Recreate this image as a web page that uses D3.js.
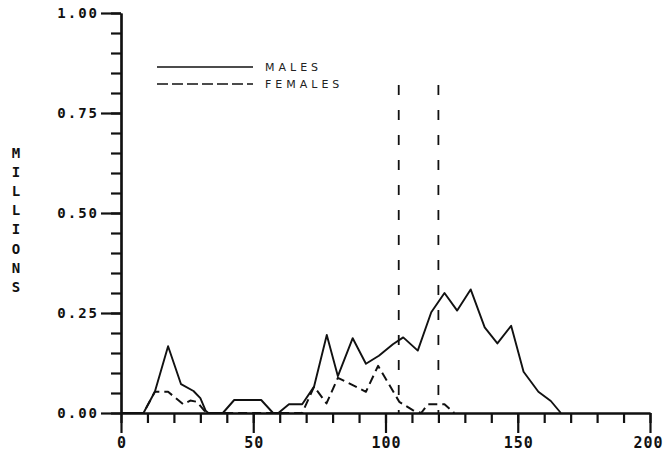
<!DOCTYPE html>
<html>
<head>
<meta charset="utf-8">
<script src="https://cdn.jsdelivr.net/npm/d3@7"></script>
<style>
  html, body { margin: 0; padding: 0; background: #fff; }
  svg { display: block; }
</style>
</head>
<body>
<svg id="chart" width="667" height="457"></svg>
<script>
// ---- data ----
const maleAge   = [0, 8.5, 12.8, 17.8, 22.7, 27.4, 30, 32, 33, 38.5, 42.8, 53, 57.5, 59.5, 63.5, 68.5, 73, 77.8, 82, 87.6, 92.6, 97.5, 102.8, 106.7, 112.2, 117.3, 122.3, 127.1, 132.2, 137.5, 142.3, 147.5, 152.2, 157.8, 162.5, 166.3];
const maleVal   = [0, 0, 0.053, 0.167, 0.072, 0.055, 0.037, 0.006, 0, 0, 0.0325, 0.0325, 0, 0, 0.022, 0.022, 0.066, 0.195, 0.092, 0.187, 0.123, 0.143, 0.172, 0.189, 0.156, 0.252, 0.300, 0.256, 0.309, 0.214, 0.174, 0.218, 0.103, 0.053, 0.030, 0];
const femaleAge = [0, 8.5, 12.8, 17.8, 23.5, 26.2, 28.7, 31.5, 33, 68.5, 73, 77.7, 82, 92.6, 97.2, 105.2, 110.3, 113.5, 116, 122.3, 126];
const femaleVal = [0, 0, 0.053, 0.053, 0.022, 0.031, 0.028, 0.006, 0, 0, 0.066, 0.024, 0.088, 0.053, 0.118, 0.028, 0.007, 0, 0.022, 0.022, 0];
const markerAges = [105, 120];
const markerTop = 0.82;
const yMajorTicks = [0, 0.25, 0.5, 0.75, 1.0];
const yMinorTicks = d3.range(0, 1.0001, 0.05);
const xMajorTicks = [0, 50, 100, 150, 200];
const xMinorTicks = d3.range(0, 201, 10);
const seriesNames = ["MALES", "FEMALES"];
const yTitle = "MILLIONS";

// ---- drawing ----
const svg = d3.select("#chart");
const ink = "#111";
const x = d3.scaleLinear().domain([0, 200]).range([121, 650]);
const y = d3.scaleLinear().domain([0, 1]).range([413, 13]);

const tickFont = "'DejaVu Sans Mono', 'Liberation Mono', monospace";

// y axis minor
svg.append("g").attr("transform", "translate(121,0)")
  .call(d3.axisLeft(y).tickValues(yMinorTicks).tickSize(10).tickSizeOuter(0).tickFormat(""))
  .call(g => g.selectAll("line,path").attr("stroke", ink).attr("stroke-width", 2.2));
// y axis major
svg.append("g").attr("transform", "translate(121,0)")
  .call(d3.axisLeft(y).tickValues(yMajorTicks).tickSize(20).tickSizeOuter(0).tickPadding(4).tickFormat(d3.format(".2f")))
  .call(g => g.selectAll("line,path").attr("stroke", ink).attr("stroke-width", 2.2))
  .call(g => g.selectAll("text").attr("fill", ink).attr("font-family", tickFont)
      .attr("font-weight", "bold").attr("font-size", 14).attr("letter-spacing", 2).attr("dx", 2));

// x axis minor
svg.append("g").attr("transform", "translate(0,413)")
  .call(d3.axisBottom(x).tickValues(xMinorTicks).tickSize(10).tickSizeOuter(0).tickFormat(""))
  .call(g => g.selectAll("line,path").attr("stroke", ink).attr("stroke-width", 2.2));
// x axis major
svg.append("g").attr("transform", "translate(0,413)")
  .call(d3.axisBottom(x).tickValues(xMajorTicks).tickSize(20).tickSizeOuter(0).tickPadding(4).tickFormat(d3.format("d")))
  .call(g => g.selectAll("line,path").attr("stroke", ink).attr("stroke-width", 2.2))
  .call(g => g.selectAll("text").attr("fill", ink).attr("font-family", tickFont)
      .attr("font-weight", "bold").attr("font-size", 15).attr("letter-spacing", 1).attr("dx", 0.5))
  .call(g => g.selectAll(".tick").filter(d => d === 200).select("text").attr("dx", -2));

// y title stacked letters
const t = svg.append("text").attr("fill", ink).attr("font-family", tickFont)
  .attr("font-weight", "bold").attr("font-size", 14).attr("text-anchor", "middle");
yTitle.split("").forEach((c, i) => {
  t.append("tspan").attr("x", 16).attr("y", 158 + i * 19.1).text(c);
});

// marker vertical dashed lines
svg.append("g").selectAll("line").data(markerAges).join("line")
  .attr("x1", d => x(d)).attr("x2", d => x(d))
  .attr("y1", y(markerTop)).attr("y2", y(0))
  .attr("stroke", ink).attr("stroke-width", 1.8).attr("stroke-dasharray", "10,15");

// series
const line = d3.line().x(d => x(d[0])).y(d => y(d[1]));
const males = maleAge.map((a, i) => [a, maleVal[i]]);
const females = femaleAge.map((a, i) => [a, femaleVal[i]]);
svg.append("path").datum(females).attr("d", line).attr("fill", "none")
  .attr("stroke", ink).attr("stroke-width", 2).attr("stroke-dasharray", "9,5")
  .attr("stroke-linejoin", "round");
svg.append("path").datum(males).attr("d", line).attr("fill", "none")
  .attr("stroke", ink).attr("stroke-width", 1.9).attr("stroke-linejoin", "round");

// legend
const legY = [67, 84];
const leg = svg.append("g");
leg.append("line").attr("x1", 157).attr("x2", 253).attr("y1", legY[0]).attr("y2", legY[0])
  .attr("stroke", ink).attr("stroke-width", 1.5);
leg.append("line").attr("x1", 157).attr("x2", 253).attr("y1", legY[1]).attr("y2", legY[1])
  .attr("stroke", ink).attr("stroke-width", 1.5).attr("stroke-dasharray", "11,4");
leg.selectAll("text").data(seriesNames).join("text")
  .attr("x", 265).attr("y", (d, i) => legY[i] + 4)
  .attr("fill", "#222").attr("font-family", "'DejaVu Sans', sans-serif")
  .attr("font-size", 11).attr("letter-spacing", 4).text(d => d);
</script>
</body>
</html>
